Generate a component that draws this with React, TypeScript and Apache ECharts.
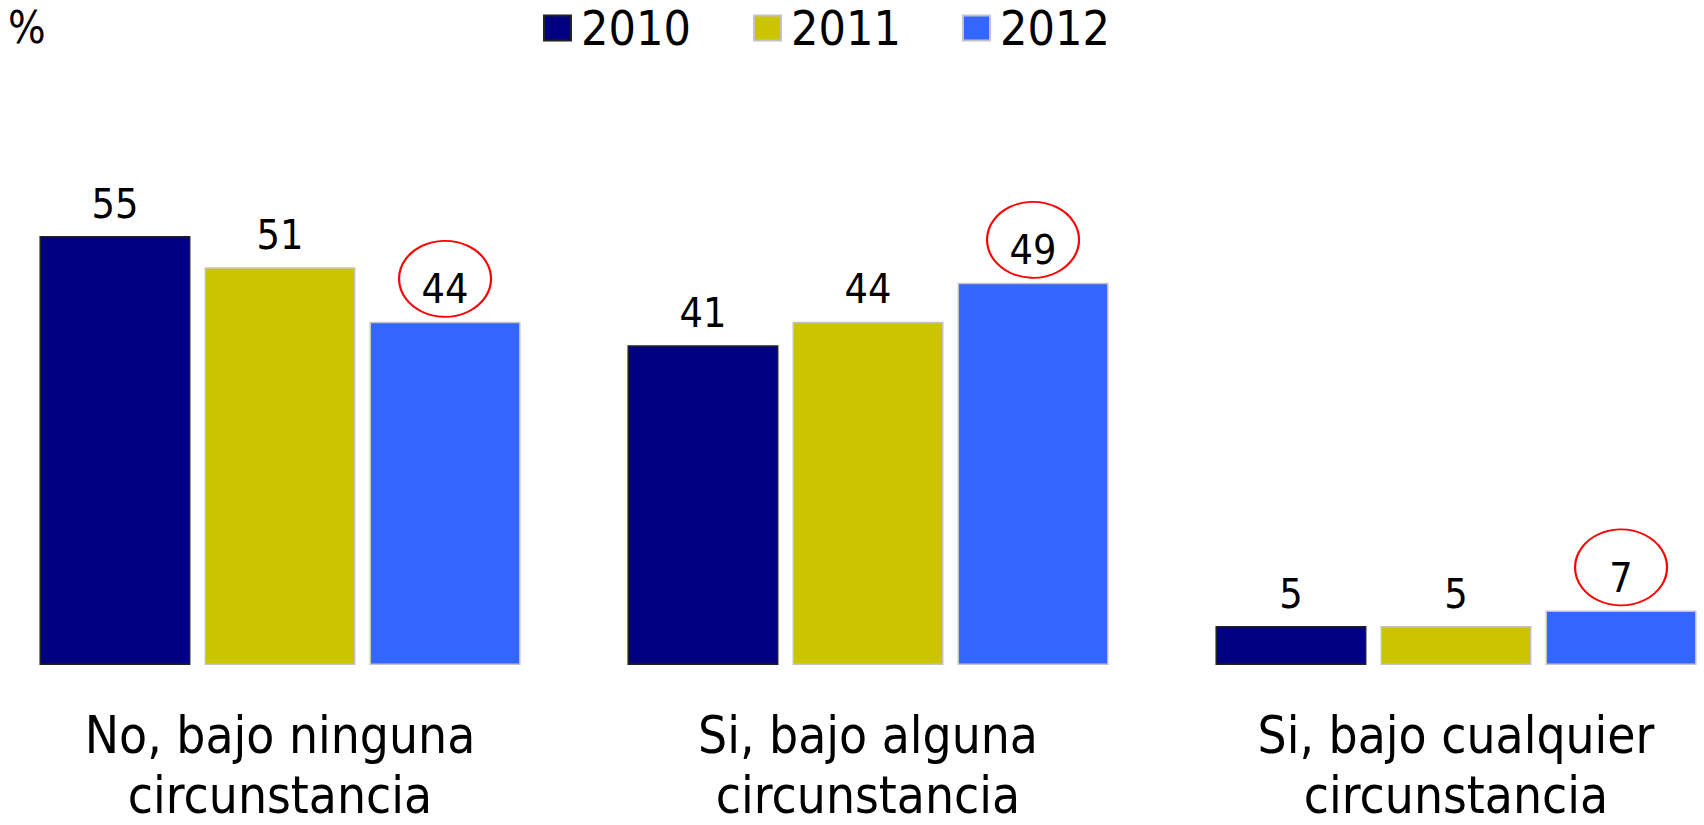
import React, { useEffect, useRef } from "react";
import * as echarts from "echarts";

const categories = [
  "No, bajo ninguna\ncircunstancia",
  "Si, bajo alguna\ncircunstancia",
  "Si, bajo cualquier\ncircunstancia",
];
const years = ["2010", "2011", "2012"];
const values2010 = [55, 41, 5];
const values2011 = [51, 44, 5];
const values2012 = [44, 49, 7];
const highlighted = [0, 1, 2];

const FONT = "'DejaVu Sans Condensed', Tahoma, 'DejaVu Sans', sans-serif";
const colors = ["#000080", "#CCC400", "#3366FF"];
const borders = ["#222222", "#C4C4C4", "#C4C4C4"];

const SHIFT = 14;

export default function App() {
  const ref = useRef<HTMLDivElement>(null);
  useEffect(() => {
    if (!ref.current) return;
    const chart = echarts.init(ref.current, undefined, { renderer: "svg" });
    const seriesValues = [values2010, values2011, values2012];
    const legendLeft = [543, 753, 962];
    chart.setOption({
      animation: false,
      textStyle: { fontFamily: FONT },
      legend: years.map((y, i) => ({
        data: [y],
        left: legendLeft[i] + SHIFT,
        top: 3,
        padding: 0,
        itemWidth: 27,
        itemHeight: 25,
        icon: "rect",
        selectedMode: false,
        textStyle: {
          fontSize: 48,
          lineHeight: 50,
          color: "#000",
          fontFamily: FONT,
          padding: [0, 0, 0, 5],
        },
      })),
      graphic: [
        {
          type: "text",
          left: 8 + SHIFT,
          top: 5,
          style: { text: "%", fontSize: 44, fill: "#000", fontFamily: FONT },
        },
      ],
      grid: { left: 0, right: 0, top: 197, bottom: 160, containLabel: false },
      xAxis: {
        type: "category",
        data: categories,
        axisLine: { show: false },
        axisTick: { show: false },
        axisLabel: {
          fontSize: 51,
          lineHeight: 60,
          color: "#000",
          margin: 40,
          fontFamily: FONT,
          interval: 0,
        },
      },
      yAxis: { type: "value", min: 0, max: 60, show: false, splitLine: { show: false } },
      series: years.map((y, i) => ({
        name: y,
        type: "bar",
        data: seriesValues[i],
        barWidth: 151,
        barGap: "9.3%",
        itemStyle: { color: colors[i], borderColor: borders[i], borderWidth: 1.5 },
        label: {
          show: true,
          position: "top",
          distance: 12,
          fontSize: 41,
          color: "#000",
          fontFamily: FONT,
        },
        markPoint:
          i === 2
            ? {
                symbol: "circle",
                symbolSize: [92, 76],
                symbolOffset: [0, -43],
                silent: true,
                itemStyle: { color: "rgba(0,0,0,0)", borderColor: "#FF0000", borderWidth: 2 },
                label: { show: false },
                data: highlighted.map((k) => ({ coord: [k, values2012[k]] })),
              }
            : undefined,
      })),
    });
    return () => chart.dispose();
  }, []);
  return (
    <div
      style={{
        position: "absolute",
        left: 0,
        top: 0,
        width: 1704,
        height: 825,
        overflow: "hidden",
      }}
    >
      <div
        ref={ref}
        style={{ position: "absolute", left: -SHIFT, top: 0, width: 1704 + 4 * SHIFT + 4, height: 825 }}
      />
    </div>
  );
}
